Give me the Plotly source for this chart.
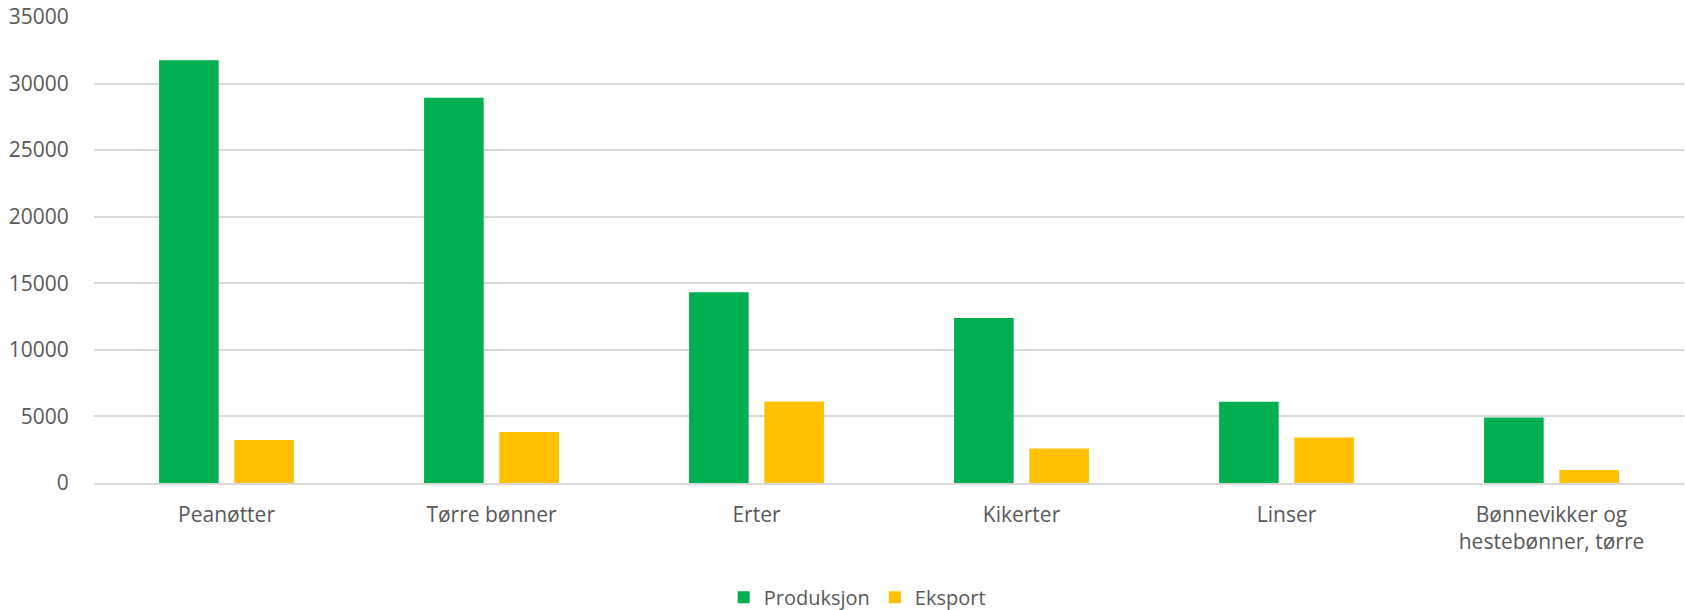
import plotly.graph_objects as go

categories = ["Peanøtter", "Tørre bønner", "Erter", "Kikerter", "Linser",
              "Bønnevikker og<br>hestebønner, tørre"]
produksjon = [31750, 28930, 14330, 12400, 6100, 4920]
eksport = [3230, 3830, 6120, 2590, 3420, 975]
y_ticks = [0, 5000, 10000, 15000, 20000, 25000, 30000, 35000]

FONT = "Open Sans"
TXT = "#595959"

fig = go.Figure()
fig.add_trace(go.Bar(name="Produksjon", x=categories, y=produksjon,
                     marker=dict(color="#00B050", line=dict(width=0))))
fig.add_trace(go.Bar(name="Eksport", x=categories, y=eksport,
                     marker=dict(color="#FFC000", line=dict(width=0))))

fig.update_layout(
    width=1685, height=610,
    margin=dict(l=94, r=1, t=17, b=127, autoexpand=False),
    paper_bgcolor="white", plot_bgcolor="white",
    barmode="group", bargap=0.432, bargroupgap=0.208,
    font=dict(family=FONT, size=21, color=TXT),
    showlegend=True,
    legend=dict(orientation="h", x=0.48, xanchor="center",
                yref="container", y=0.021, yanchor="middle",
                font=dict(family=FONT, size=20, color=TXT),
                itemwidth=30, traceorder="normal"),
)
fig.update_yaxes(range=[0, 35000], tickvals=y_ticks, ticktext=[str(v) for v in y_ticks],
                 automargin=False,
                 showgrid=True, gridcolor="#d9d9d9", gridwidth=1.5,
                 zeroline=False, showline=False,
                 ticks="outside", ticklen=20, tickcolor="rgba(0,0,0,0)",
                 tickfont=dict(family=FONT, size=21, color=TXT))
fig.update_xaxes(showgrid=False, showline=True, linecolor="#d9d9d9", linewidth=1.5,
                 automargin=False,
                 ticks="outside", ticklen=12, tickcolor="rgba(0,0,0,0)",
                 tickfont=dict(family=FONT, size=21, color=TXT))

fig.write_html("out.html", config={"displayModeBar": False},
               post_script="document.body.style.margin='0';document.body.style.overflow='hidden';")
